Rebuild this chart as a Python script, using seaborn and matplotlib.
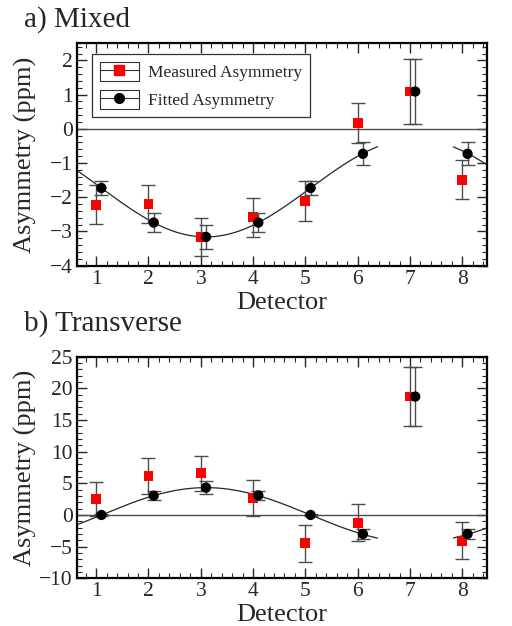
import numpy as np
import seaborn as sns
import matplotlib
matplotlib.use('Agg')
import matplotlib.pyplot as plt
from matplotlib.lines import Line2D
from matplotlib.patches import Rectangle
from matplotlib.legend_handler import HandlerLine2D
from matplotlib.ticker import MultipleLocator

# ============================ данные ============================ #
detectors = [1, 2, 3, 4, 5, 6, 7, 8]
fit_shift = 0.1

mixed_measured = [-2.22, -2.19, -3.16, -2.58, -2.12, 0.16, 1.09, -1.49]
mixed_measured_err = [0.57, 0.56, 0.55, 0.57, 0.58, 0.58, 0.95, 0.57]
mixed_fitted = [-1.73, -2.74, -3.16, -2.74, -1.73, -0.73, 1.09, -0.73]
mixed_fitted_err = [0.21, 0.27, 0.34, 0.27, 0.21, 0.33, 0.95, 0.33]

trans_measured = [2.53, 6.16, 6.58, 2.74, -4.47, -1.21, 18.7, -4.05]
trans_measured_err = [2.7, 2.85, 2.8, 2.85, 2.9, 2.9, 4.65, 2.87]
trans_fitted = [0.0, 3.05, 4.32, 3.1, 0.0, -3.0, 18.7, -3.0]
trans_fitted_err = [0.2, 0.74, 0.97, 0.74, 0.2, 0.85, 4.65, 0.78]

# параметры подгонки: смещение, амплитуда, положение максимума, период
mixed_fit = (-1.73, 1.43, 7.1, 8.0)
trans_fit = (0.0, 4.32, 3.1, 8.0)
fit_segments = [(0.63, 6.38), (7.83, 8.47)]

# ============================ стиль ============================ #
sns.set_style('ticks')
plt.rcParams['font.family'] = ['Liberation Serif', 'DejaVu Serif']
plt.rcParams['mathtext.fontset'] = 'stix'


class BoxedHandler(HandlerLine2D):
    def create_artists(self, legend, orig_handle, xdescent, ydescent,
                       width, height, fontsize, trans):
        artists = super().create_artists(legend, orig_handle, xdescent, ydescent,
                                         width, height, fontsize, trans)
        box = Rectangle((-xdescent, -ydescent), width, height, fill=False,
                        edgecolor='0.2', linewidth=0.8, transform=trans)
        return list(artists) + [box]


def draw_panel(ax, measured, measured_err, fitted, fitted_err, fit):
    x_fit = [d + fit_shift for d in detectors]
    ax.axhline(0, color='0.3', lw=1.0, zorder=1)

    offset, amp, peak, period = fit
    for a, b in fit_segments:
        xs = np.linspace(a, b, 200)
        ys = offset + amp * np.cos(2 * np.pi * (xs - peak) / period)
        sns.lineplot(x=xs, y=ys, color='0.15', lw=0.9, sort=False, ax=ax, zorder=2)

    ax.errorbar(detectors, measured, yerr=measured_err, fmt='none',
                ecolor='0.3', elinewidth=1.0, capsize=5, capthick=1.0, zorder=3)
    sns.scatterplot(x=detectors, y=measured, marker='s', color='red',
                    s=50, edgecolor='none', ax=ax, zorder=4)
    ax.errorbar(x_fit, fitted, yerr=fitted_err, fmt='none',
                ecolor='0.3', elinewidth=1.0, capsize=5, capthick=1.0, zorder=5)
    sns.scatterplot(x=x_fit, y=fitted, marker='o', color='black',
                    s=55, edgecolor='none', ax=ax, zorder=6)

    ax.set_xlim(0.63, 8.47)
    ax.set_xticks(detectors)
    ax.xaxis.set_minor_locator(MultipleLocator(0.2))
    ax.set_xlabel('Detector', fontsize=19, labelpad=2)
    ax.set_ylabel('Asymmetry (ppm)', fontsize=19)
    ax.yaxis.set_label_coords(-0.097, 0.5)
    ax.tick_params(which='both', direction='in', top=True, right=True,
                   labelsize=15.5, pad=3)
    ax.tick_params(which='major', length=7, width=1.0)
    ax.tick_params(which='minor', length=3.5, width=0.8)
    for sp in ax.spines.values():
        sp.set_linewidth(1.6)
        sp.set_color('black')


fig = plt.figure(figsize=(5.12, 6.26), dpi=100)
ax1 = fig.add_axes([0.150, 0.5756, 0.801, 0.3553])
ax2 = fig.add_axes([0.150, 0.0762, 0.801, 0.3540])

draw_panel(ax1, mixed_measured, mixed_measured_err, mixed_fitted, mixed_fitted_err, mixed_fit)
ax1.set_ylim(-4, 2.5)
ax1.set_yticks([-4, -3, -2, -1, 0, 1, 2])
ax1.yaxis.set_minor_locator(MultipleLocator(0.2))

draw_panel(ax2, trans_measured, trans_measured_err, trans_fitted, trans_fitted_err, trans_fit)
ax2.set_ylim(-10, 25)
ax2.set_yticks([-10, -5, 0, 5, 10, 15, 20, 25])
ax2.yaxis.set_minor_locator(MultipleLocator(1))

handles = [
    Line2D([], [], color='0.2', lw=0.8, marker='s', mfc='red', mec='red', ms=7),
    Line2D([], [], color='0.2', lw=0.8, marker='o', mfc='black', mec='black', ms=7),
]
leg = ax1.legend(handles, ['Measured Asymmetry', 'Fitted Asymmetry'],
                 loc='upper left', bbox_to_anchor=(0.037, 0.95), borderaxespad=0,
                 fontsize=12.5, handlelength=2.25, handleheight=1.3,
                 labelspacing=0.5, handletextpad=0.55, borderpad=0.45,
                 fancybox=False, framealpha=1, edgecolor='0.2',
                 handler_map={Line2D: BoxedHandler(numpoints=1)})
leg.get_frame().set_linewidth(0.9)

fig.text(0.047, 0.957, 'a) Mixed', fontsize=21, va='baseline')
fig.text(0.047, 0.471, 'b) Transverse', fontsize=21, va='baseline')

fig.savefig('out.png', dpi=100)
